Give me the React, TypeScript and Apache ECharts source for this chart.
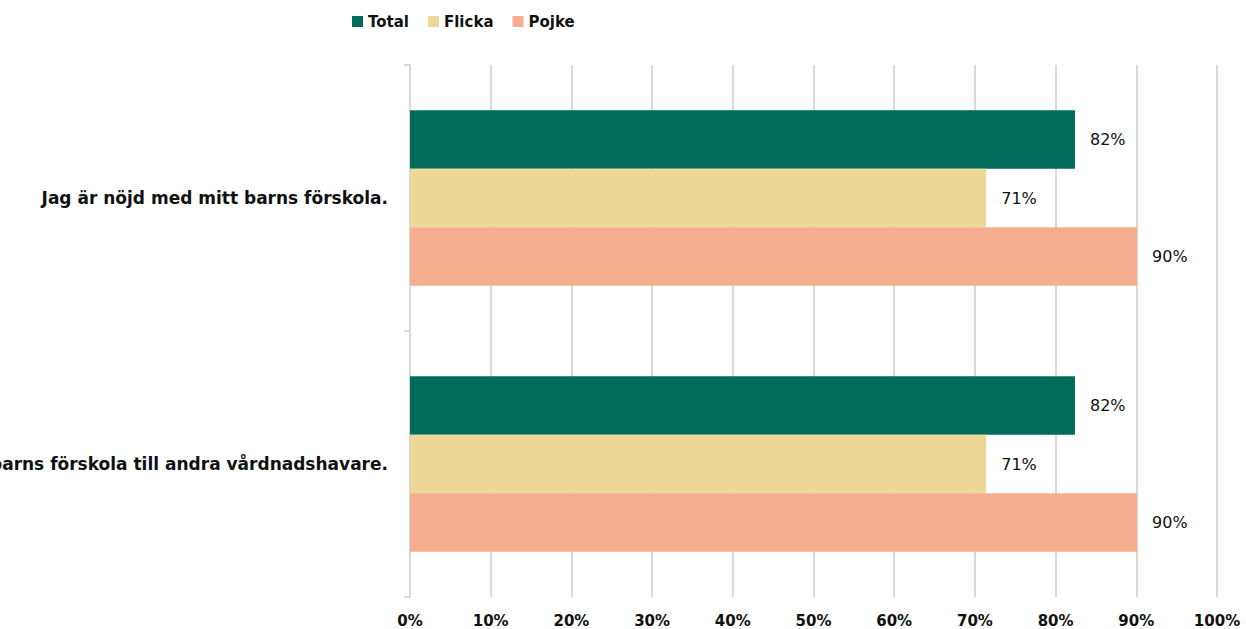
import React, { useEffect, useRef } from "react";
import * as echarts from "echarts";

const categories = [
  "Jag är nöjd med mitt barns förskola.",
  "Jag kan rekommendera mitt barns förskola till andra vårdnadshavare.",
];
const seriesNames = ["Total", "Flicka", "Pojke"];
const totalValues = [82.4, 82.4];
const flickaValues = [71.4, 71.4];
const pojkeValues = [90.1, 90.1];
const xTicks = [0, 10, 20, 30, 40, 50, 60, 70, 80, 90, 100];
const colors = ["#006B5A", "#EDD897", "#F6AE91"];

const FONT = "DejaVu Sans";

export default function App() {
  const ref = useRef<HTMLDivElement>(null);
  useEffect(() => {
    document.body.style.margin = "0";
    const chart = echarts.init(ref.current!, null, { renderer: "svg" });
    const values = [totalValues, flickaValues, pojkeValues];
    chart.setOption({
      animation: false,
      legend: {
        top: 9,
        left: 347,
        itemWidth: 11,
        itemHeight: 11,
        itemGap: 19,
        icon: "rect",
        textStyle: { fontFamily: FONT, fontSize: 15, color: "#111", fontWeight: "bold" },
        data: seriesNames,
      },
      grid: { left: 410, right: 29, top: 65, bottom: 32, containLabel: false, outerBoundsMode: "none" },
      xAxis: {
        type: "value",
        min: xTicks[0],
        max: xTicks[xTicks.length - 1],
        interval: 10,
        axisLine: { show: false },
        axisTick: { show: false },
        splitLine: { show: true, lineStyle: { color: "#d9d9d9", width: 2 } },
        axisLabel: {
          formatter: (v: number) => `${v}%`,
          fontFamily: FONT,
          fontSize: 15,
          fontWeight: "bold",
          color: "#111",
          margin: 16,
        },
      },
      yAxis: {
        type: "category",
        inverse: true,
        data: categories,
        axisLine: { show: true, lineStyle: { color: "#d9d9d9", width: 2 } },
        axisTick: { show: true, length: 6, lineStyle: { color: "#d9d9d9", width: 2 } },
        axisLabel: {
          fontFamily: FONT,
          fontSize: 17,
          fontWeight: "bold",
          color: "#111",
          margin: 22,
        },
      },
      series: seriesNames.map((name, i) => ({
        name,
        type: "bar",
        data: values[i],
        barGap: "0%",
        barCategoryGap: "34%",
        itemStyle: { color: colors[i] },
        label: {
          show: true,
          position: "right",
          distance: 15,
          formatter: (p: any) => `${Math.round(p.value)}%`,
          fontFamily: FONT,
          fontSize: 16,
          color: "#111",
        },
      })),
    });
    return () => chart.dispose();
  }, []);
  return <div ref={ref} style={{ width: 1246, height: 629 }} />;
}
